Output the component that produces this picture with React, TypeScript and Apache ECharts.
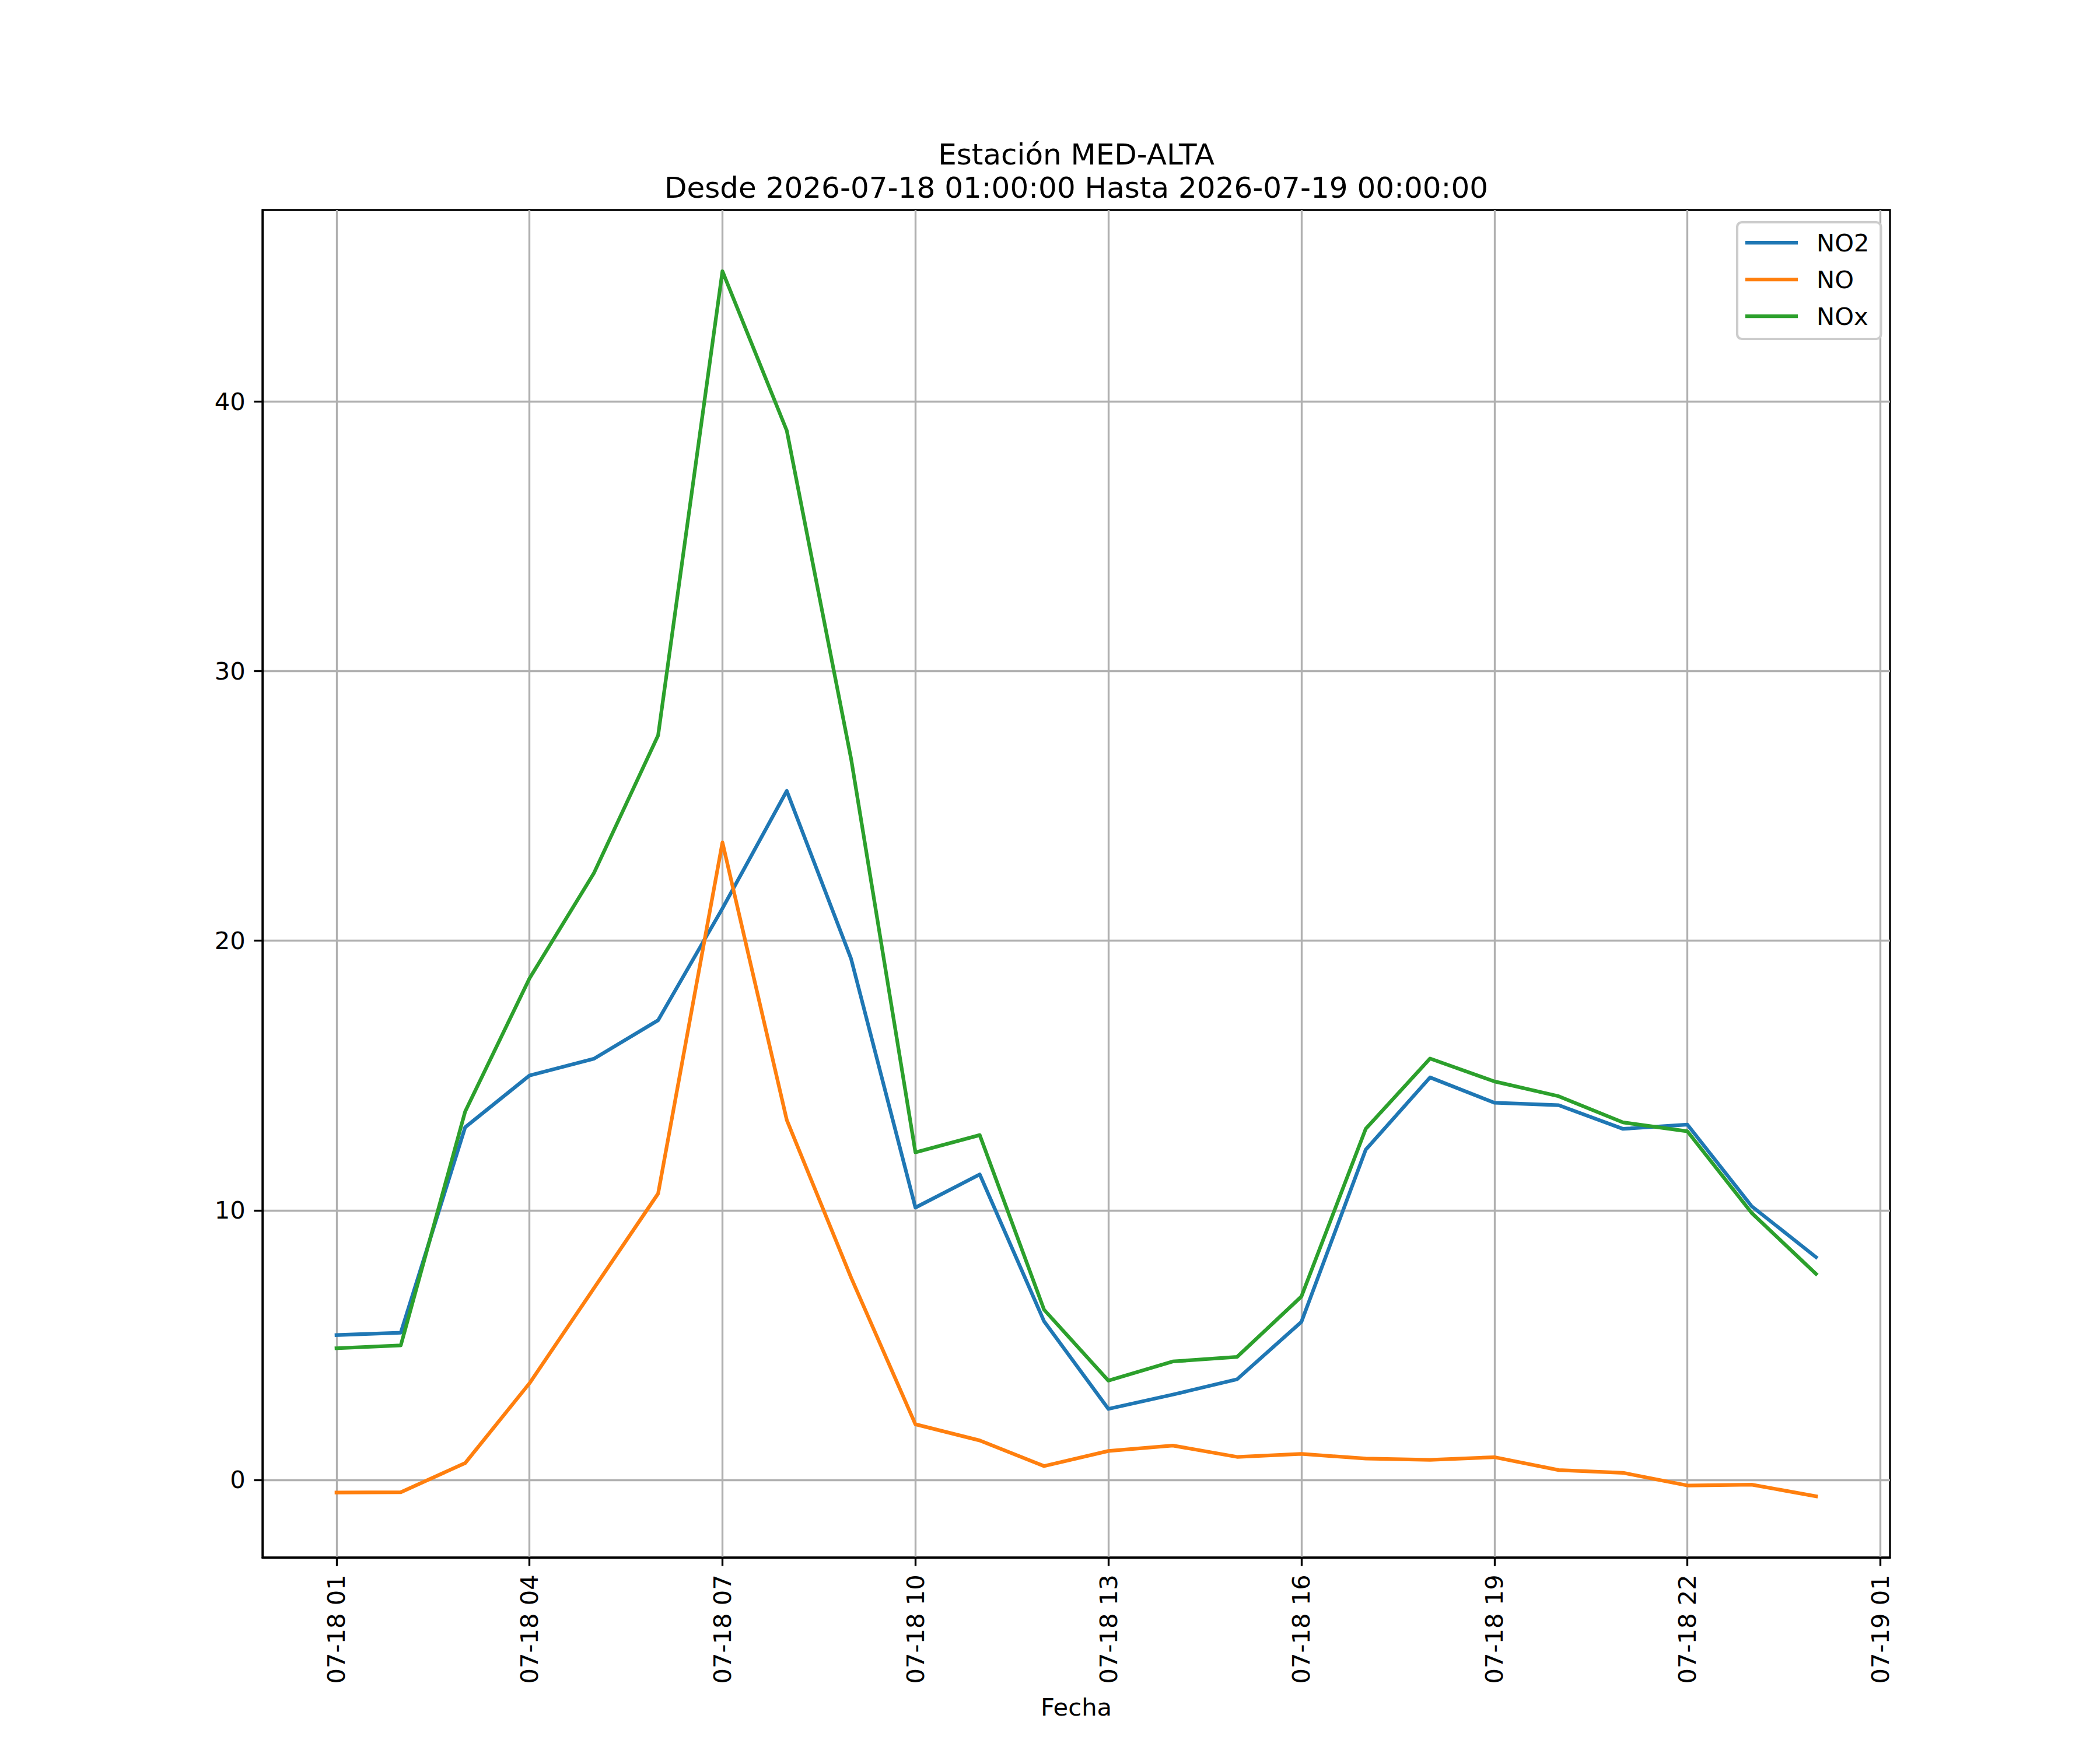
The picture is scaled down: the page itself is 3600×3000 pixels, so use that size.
import React, { useEffect, useRef } from "react";
import * as echarts from "echarts";

const times = [
  "2026-07-18 01:00", "2026-07-18 02:00", "2026-07-18 03:00", "2026-07-18 04:00",
  "2026-07-18 05:00", "2026-07-18 06:00", "2026-07-18 07:00", "2026-07-18 08:00",
  "2026-07-18 09:00", "2026-07-18 10:00", "2026-07-18 11:00", "2026-07-18 12:00",
  "2026-07-18 13:00", "2026-07-18 14:00", "2026-07-18 15:00", "2026-07-18 16:00",
  "2026-07-18 17:00", "2026-07-18 18:00", "2026-07-18 19:00", "2026-07-18 20:00",
  "2026-07-18 21:00", "2026-07-18 22:00", "2026-07-18 23:00", "2026-07-19 00:00",
];

const no2 = [5.37, 5.46, 13.08, 15.0, 15.62, 17.05, 21.2, 25.56, 19.33, 10.1, 11.33, 5.88,
  2.63, 3.16, 3.73, 5.86, 12.25, 14.93, 13.99, 13.9, 13.02, 13.18, 10.15, 8.26];
const no = [-0.47, -0.46, 0.62, 3.58, 7.1, 10.62, 23.65, 13.35, 7.5, 2.06, 1.46, 0.51,
  1.07, 1.27, 0.85, 0.96, 0.79, 0.74, 0.84, 0.36, 0.26, -0.21, -0.18, -0.61];
const nox = [4.88, 4.99, 13.66, 18.6, 22.5, 27.62, 44.84, 38.93, 26.75, 12.15, 12.79, 6.31,
  3.68, 4.39, 4.56, 6.8, 13.02, 15.63, 14.78, 14.23, 13.26, 12.93, 9.9, 7.64];

const seriesNames = ["NO2", "NO", "NOx"];
const colors = ["#1f77b4", "#ff7f0e", "#2ca02c"];

// tick positions in hours after the first timestamp
const xTickHours = [0, 3, 6, 9, 12, 15, 18, 21, 24];
const yTicks = [0, 10, 20, 30, 40];

const titleLine1 = "Estación MED-ALTA";
const titleLine2 = "Desde 2026-07-18 01:00:00 Hasta 2026-07-19 00:00:00";
const xName = "Fecha";

const FONT = "DejaVu Sans";
const PT = 300 / 72;

function parseTime(s: string): number {
  return Date.parse(s.replace(" ", "T") + ":00Z");
}

const t0 = parseTime(times[0]);
const hours = times.map((t) => (parseTime(t) - t0) / 3600000);

function pad(n: number) {
  return n < 10 ? "0" + n : "" + n;
}

function fmtHour(h: number): string {
  const d = new Date(t0 + h * 3600000);
  return pad(d.getUTCMonth() + 1) + "-" + pad(d.getUTCDate()) + " " + pad(d.getUTCHours());
}

export default function App() {
  const ref = useRef<HTMLDivElement>(null);
  useEffect(() => {
    const chart = echarts.init(ref.current!, null, { renderer: "svg", width: 3600, height: 3000 });
    const all = [...no2, ...no, ...nox];
    const yLo = Math.min(...all);
    const yHi = Math.max(...all);
    const yM = (yHi - yLo) * 0.05;
    const xLo = Math.min(...hours);
    const xHi = Math.max(...hours);
    const xM = (xHi - xLo) * 0.05;
    const dataSets = [no2, no, nox];
    const gridLeft = 450, gridTop = 360, gridW = 2790, gridH = 2310;
    const fs = 10 * PT;
    const option: any = {
      animation: false,
      backgroundColor: "#ffffff",
      textStyle: { fontFamily: FONT },
      grid: {
        left: gridLeft, top: gridTop, width: gridW, height: gridH,
        show: true, borderColor: "#000000", borderWidth: 0.8 * PT, backgroundColor: "transparent",
      },
      graphic: [
        {
          type: "text", x: gridLeft + gridW / 2, y: 265,
          style: { text: titleLine1, fontSize: 12 * PT, fontFamily: FONT, fill: "#000", textAlign: "center", textVerticalAlign: "middle" },
        },
        {
          type: "text", x: gridLeft + gridW / 2, y: 322,
          style: { text: titleLine2, fontSize: 12 * PT, fontFamily: FONT, fill: "#000", textAlign: "center", textVerticalAlign: "middle" },
        },
      ],
      xAxis: {
        type: "value",
        min: xLo - xM,
        max: xHi + xM,
        name: xName,
        nameLocation: "middle",
        nameGap: 235,
        nameTextStyle: { fontSize: fs, color: "#000", fontFamily: FONT },
        axisLine: { show: true, onZero: false, lineStyle: { color: "#000", width: 0.8 * PT } },
        axisTick: { show: true, inside: false, length: 3.5 * PT, lineStyle: { color: "#000", width: 0.8 * PT }, customValues: xTickHours },
        axisLabel: {
          show: true, rotate: 90, margin: 7 * PT, fontSize: fs, color: "#000", fontFamily: FONT,
          customValues: xTickHours, formatter: (v: number) => fmtHour(v),
          showMinLabel: true, showMaxLabel: true,
        },
        splitLine: { show: true, lineStyle: { color: "#b0b0b0", width: 0.8 * PT } },
      },
      yAxis: {
        type: "value",
        min: yLo - yM,
        max: yHi + yM,
        axisLine: { show: true, onZero: false, lineStyle: { color: "#000", width: 0.8 * PT } },
        axisTick: { show: true, inside: false, length: 3.5 * PT, lineStyle: { color: "#000", width: 0.8 * PT }, customValues: yTicks },
        axisLabel: {
          show: true, margin: 7 * PT, fontSize: fs, color: "#000", fontFamily: FONT,
          customValues: yTicks, formatter: (v: number) => String(Math.round(v)),
        },
        splitLine: { show: true, lineStyle: { color: "#b0b0b0", width: 0.8 * PT } },
      },
      legend: {
        show: true,
        orient: "vertical",
        left: 2978,
        top: 381,
        icon: "rect",
        itemWidth: 90,
        itemHeight: 1.5 * PT,
        itemGap: 21,
        padding: [14, 20, 18, 14],
        backgroundColor: "rgba(255,255,255,0.8)",
        borderColor: "#cccccc",
        borderWidth: 1 * PT,
        borderRadius: 8,
        textStyle: { fontSize: fs, color: "#000", fontFamily: FONT, padding: [0, 0, 0, 27] },
        data: seriesNames,
      },
      series: seriesNames.map((name, i) => ({
        name,
        type: "line",
        showSymbol: false,
        symbol: "none",
        color: colors[i],
        lineStyle: { color: colors[i], width: 1.5 * PT, join: "round", cap: "square" },
        data: hours.map((h, j) => [h, dataSets[i][j]]),
        z: 3,
      })),
    };
    chart.setOption(option);
    return () => chart.dispose();
  }, []);
  return (
    <div
      ref={ref}
      style={{ position: "absolute", left: 0, top: 0, width: 3600, height: 3000, background: "#fff" }}
    />
  );
}
